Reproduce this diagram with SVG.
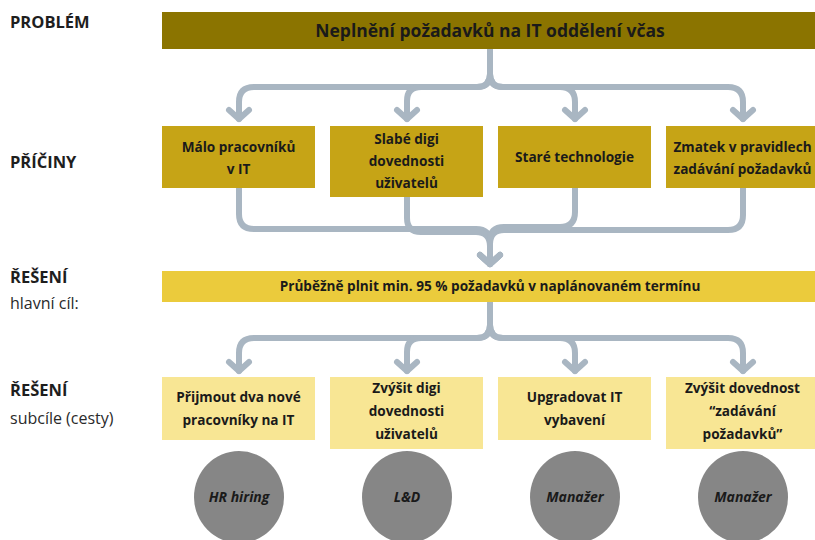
<svg xmlns="http://www.w3.org/2000/svg" width="815" height="540" viewBox="0 0 815 540">
<defs>
<style>
.lbl{font-family:"Open Sans","Noto Sans","Liberation Sans",sans-serif;font-weight:700;font-size:16.5px;fill:#1e1e1e}
.sub{font-family:"Open Sans","Noto Sans","Liberation Sans",sans-serif;font-weight:400;font-size:16px;fill:#2a2a2a}
.t{font-family:"Open Sans","Noto Sans","Liberation Sans",sans-serif;font-weight:700;font-size:13.6px;fill:#1a1a1a;text-anchor:middle}
.title{font-family:"Open Sans","Noto Sans","Liberation Sans",sans-serif;font-weight:700;font-size:17.5px;fill:#1a1a1a;text-anchor:middle}
.goal{font-family:"Open Sans","Noto Sans","Liberation Sans",sans-serif;font-weight:700;font-size:13.6px;fill:#1a1a1a;text-anchor:middle}
.who{font-family:"Open Sans","Noto Sans","Liberation Sans",sans-serif;font-weight:700;font-style:italic;font-size:14px;fill:#1a1a1a;text-anchor:middle}
.prob{fill:#8B7400}
.cause{fill:#C6A416}
.main{fill:#EBCB3C}
.subg{fill:#F8E694}
.circ{fill:#868686}
.con{fill:none;stroke:#A9B6C2;stroke-width:6;stroke-linecap:round;stroke-linejoin:round}
</style>
<marker id="ah" markerUnits="userSpaceOnUse" markerWidth="30" markerHeight="30" refX="15" refY="15" orient="auto" overflow="visible">
<path d="M6,5 L15,15 L6,25" fill="none" stroke="#A9B6C2" stroke-width="6" stroke-linecap="round" stroke-linejoin="round"/>
</marker>
</defs>
<rect width="815" height="540" fill="#ffffff"/>

<g id="labels">
<text class="lbl" x="10" y="28">PROBLÉM</text>
<text class="lbl" x="10" y="168">PŘÍČINY</text>
<text class="lbl" x="10" y="283">ŘEŠENÍ</text>
<text class="sub" x="10" y="309">hlavní cíl:</text>
<text class="lbl" x="10" y="396">ŘEŠENÍ</text>
<text class="sub" x="10" y="424">subcíle (cesty)</text>
</g>

<g id="connectors">
<path class="con" marker-end="url(#ah)" d="M490,49 V74 Q490,87 477,87 H254 Q239,87 239,102 V119"/>
<path class="con" marker-end="url(#ah)" d="M490,49 V74 Q490,87 477,87 H421 Q407,87 407,101 V119"/>
<path class="con" marker-end="url(#ah)" d="M490,49 V74 Q490,87 503,87 H560 Q575,87 575,102 V119"/>
<path class="con" marker-end="url(#ah)" d="M490,49 V74 Q490,87 503,87 H728 Q743,87 743,102 V119"/>

<path class="con" marker-end="url(#ah)" d="M239,188 V214 Q239,229 254,229 H476 Q490,229 490,243 V264"/>
<path class="con" marker-end="url(#ah)" d="M407,197 V218 Q407,232 421,232 H476 Q490,232 490,246 V264"/>
<path class="con" marker-end="url(#ah)" d="M575,188 V212 Q575,227 560,227 H504 Q490,227 490,241 V264"/>
<path class="con" marker-end="url(#ah)" d="M743,188 V215 Q743,230 728,230 H504 Q490,230 490,244 V264"/>

<path class="con" marker-end="url(#ah)" d="M490,302 V325 Q490,338 477,338 H254 Q239,338 239,353 V371"/>
<path class="con" marker-end="url(#ah)" d="M490,302 V325 Q490,338 477,338 H421 Q407,338 407,352 V371"/>
<path class="con" marker-end="url(#ah)" d="M490,302 V325 Q490,338 503,338 H560 Q575,338 575,353 V371"/>
<path class="con" marker-end="url(#ah)" d="M490,302 V325 Q490,338 503,338 H728 Q743,338 743,353 V371"/>
</g>

<g id="problem">
<rect class="prob" x="162" y="12" width="660" height="37"/>
<text class="title" x="490" y="37">Neplnění požadavků na IT oddělení včas</text>
</g>

<g id="cause1">
<rect class="cause" x="162" y="126" width="153" height="62"/>
<text class="t" x="238.5" y="152">Málo pracovníků</text>
<text class="t" x="238.5" y="174">v IT</text>
</g>
<g id="cause2">
<rect class="cause" x="330" y="126" width="153" height="71"/>
<text class="t" x="406.5" y="144">Slabé digi</text>
<text class="t" x="406.5" y="166">dovednosti</text>
<text class="t" x="406.5" y="188">uživatelů</text>
</g>
<g id="cause3">
<rect class="cause" x="498" y="126" width="153" height="62"/>
<text class="t" x="574.5" y="162">Staré technologie</text>
</g>
<g id="cause4">
<rect class="cause" x="666" y="126" width="153" height="62"/>
<text class="t" x="742.5" y="152">Zmatek v pravidlech</text>
<text class="t" x="742.5" y="174">zadávání požadavků</text>
</g>

<g id="goal">
<rect class="main" x="162" y="271" width="660" height="31"/>
<text class="goal" x="490" y="291">Průběžně plnit min. 95 % požadavků v naplánovaném termínu</text>
</g>

<g id="sub1">
<rect class="subg" x="162" y="377" width="153" height="63"/>
<text class="t" x="238.5" y="402">Přijmout dva nové</text>
<text class="t" x="238.5" y="425">pracovníky na IT</text>
</g>
<g id="sub2">
<rect class="subg" x="330" y="377" width="153" height="72"/>
<text class="t" x="406.5" y="393">Zvýšit digi</text>
<text class="t" x="406.5" y="416">dovednosti</text>
<text class="t" x="406.5" y="439">uživatelů</text>
</g>
<g id="sub3">
<rect class="subg" x="498" y="377" width="153" height="63"/>
<text class="t" x="574.5" y="402">Upgradovat IT</text>
<text class="t" x="574.5" y="425">vybavení</text>
</g>
<g id="sub4">
<rect class="subg" x="666" y="377" width="153" height="72"/>
<text class="t" x="742.5" y="393">Zvýšit dovednost</text>
<text class="t" x="742.5" y="416">“zadávání</text>
<text class="t" x="742.5" y="439">požadavků”</text>
</g>

<g id="owner1"><ellipse class="circ" cx="239" cy="497" rx="45" ry="46"/><text class="who" x="239" y="502">HR hiring</text></g>
<g id="owner2"><ellipse class="circ" cx="407" cy="497" rx="45" ry="46"/><text class="who" x="407" y="502">L&amp;D</text></g>
<g id="owner3"><ellipse class="circ" cx="575" cy="497" rx="45" ry="46"/><text class="who" x="575" y="502">Manažer</text></g>
<g id="owner4"><ellipse class="circ" cx="743" cy="497" rx="45" ry="46"/><text class="who" x="743" y="502">Manažer</text></g>
</svg>
